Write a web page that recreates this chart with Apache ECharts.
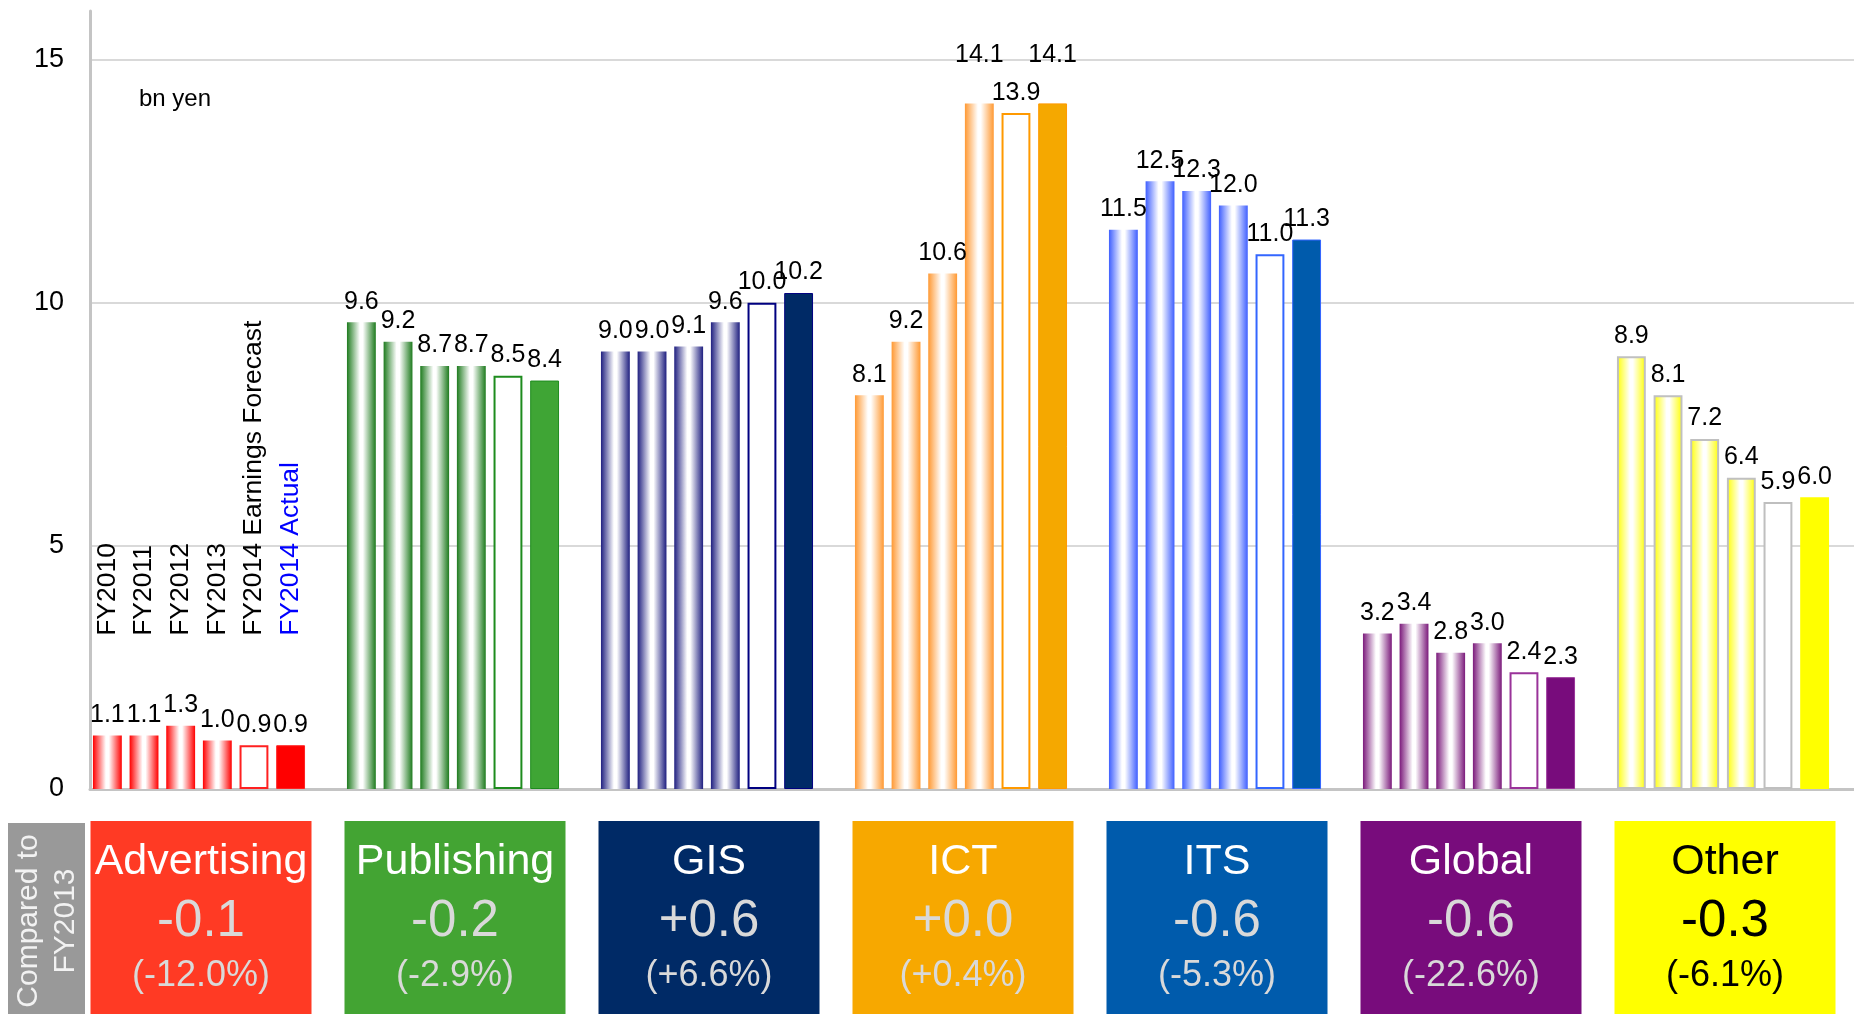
<!DOCTYPE html>
<html>
<head>
<meta charset="utf-8">
<title>Segment operating income</title>
<script src="https://cdn.jsdelivr.net/npm/echarts@6/dist/echarts.min.js"></script>
<style>
  html, body { margin: 0; padding: 0; background: #ffffff; }
  #chart { width: 1854px; height: 1014px; }
</style>
</head>
<body>
<div id="chart"></div>
<script>
// Business segments and fiscal years
const segments = ['Advertising', 'Publishing', 'GIS', 'ICT', 'ITS', 'Global', 'Other'];
const years = ['FY2010', 'FY2011', 'FY2012', 'FY2013', 'FY2014 Earnings Forecast', 'FY2014 Actual'];

// Values per fiscal year, one entry per segment (bn yen)
const fy2010 = [1.1, 9.6, 9.0, 8.1, 11.5, 3.2, 8.9];
const fy2011 = [1.1, 9.2, 9.0, 9.2, 12.5, 3.4, 8.1];
const fy2012 = [1.3, 8.7, 9.1, 10.6, 12.3, 2.8, 7.2];
const fy2013 = [1.0, 8.7, 9.6, 14.1, 12.0, 3.0, 6.4];
const fy2014Forecast = [0.9, 8.5, 10.0, 13.9, 11.0, 2.4, 5.9];
const fy2014Actual = [0.9, 8.4, 10.2, 14.1, 11.3, 2.3, 6.0];

// Change versus FY2013
const changeAmounts = ['-0.1', '-0.2', '+0.6', '+0.0', '-0.6', '-0.6', '-0.3'];
const changeRates = ['(-12.0%)', '(-2.9%)', '(+6.6%)', '(+0.4%)', '(-5.3%)', '(-22.6%)', '(-6.1%)'];

// Value axis tick labels
const yTicks = [0, 5, 10, 15];

const FONT = "'Liberation Sans', Arial, Helvetica, sans-serif";

// Segment palette
const edgeColors   = ['#FF0000', '#1E7B1E', '#1F1F80', '#FF9933', '#3F5FFF', '#7B1A7B', '#FFFF00'];
const solidColors  = ['#FF0000', '#3FA535', '#002A66', '#F5A800', '#005BAC', '#780C7C', '#FFFF00'];
const borderColors = ['#FF2020', '#1E8C1E', '#000080', '#FF9900', '#3366FF', '#993399', '#BFBFBF'];
const boxColors    = ['#FF3A24', '#43A433', '#002A66', '#F7A800', '#005BAC', '#780C7C', '#FFFF00'];

function barStyle(yearIdx, segIdx) {
  const edge = edgeColors[segIdx];
  const isOther = segIdx === 6;
  if (yearIdx === 4) {
    return { color: '#ffffff', borderColor: borderColors[segIdx], borderWidth: 2 };
  }
  if (yearIdx === 5) {
    return {
      color: solidColors[segIdx],
      borderColor: isOther ? solidColors[segIdx] : borderColors[segIdx],
      borderWidth: isOther ? 0 : 1
    };
  }
  return {
    color: {
      type: 'linear', x: 0, y: 0, x2: 1, y2: 0,
      colorStops: [
        { offset: 0, color: edge },
        { offset: 0.45, color: '#ffffff' },
        { offset: 0.55, color: '#ffffff' },
        { offset: 1, color: edge }
      ]
    },
    borderColor: isOther ? '#C0C0C0' : edge,
    borderWidth: isOther ? 2 : 0
  };
}

// A few labels sit higher to stay clear of neighbours
function labelShift(yearIdx, segIdx) {
  if (segIdx === 3 && (yearIdx === 3 || yearIdx === 5)) return [0, -28];
  return [0, 0];
}

const yearSeries = [fy2010, fy2011, fy2012, fy2013, fy2014Forecast, fy2014Actual];

const barSeries = yearSeries.map((vals, k) => ({
  type: 'bar',
  name: years[k],
  xAxisIndex: 1,
  yAxisIndex: 1,
  barGap: '27%',
  barCategoryGap: '16.5%',
  data: vals.map((v, i) => ({
    value: v,
    itemStyle: barStyle(k, i),
    label: { offset: labelShift(k, i) }
  })),
  label: {
    show: true,
    position: 'top',
    distance: 8,
    fontSize: 25,
    fontFamily: FONT,
    color: '#000000',
    formatter: p => Number(p.value).toFixed(1)
  },
  // Fiscal-year caption written vertically above the first group's bars
  markPoint: {
    silent: true,
    symbol: 'rect',
    symbolSize: 1,
    itemStyle: { color: 'rgba(0,0,0,0)' },
    data: [{ coord: [0, 3.15], value: years[k] }],
    label: {
      show: true,
      position: 'inside',
      rotate: 90,
      align: 'left',
      verticalAlign: 'middle',
      fontSize: 26.5,
      fontFamily: FONT,
      color: k === 5 ? '#0000FF' : '#000000',
      formatter: () => years[k]
    }
  }
}));

const chart = echarts.init(document.getElementById('chart'), null, { renderer: 'canvas' });

const GRID_TOP = 11, GRID_BOTTOM = 225;
const BAR_LEFT = 72, BAR_RIGHT = 4;
const catWidth = (1854 - BAR_LEFT - BAR_RIGHT) / segments.length;

// Bottom panels with the change versus FY2013
const graphics = [
  {
    type: 'text', left: 139, top: 87,
    style: { text: 'bn yen', fontSize: 24, fontFamily: FONT, fill: '#000000' }
  },
  {
    type: 'rect', shape: { x: 8, y: 823, width: 77, height: 200 },
    style: { fill: '#999999' }
  },
  {
    type: 'text', x: 47, y: 921, rotation: Math.PI / 2,
    style: {
      text: 'Compared to\nFY2013', x: 0, y: 0,
      fontSize: 30, fontFamily: FONT, fill: '#F2F2F2', lineHeight: 37,
      align: 'center', verticalAlign: 'middle',
      textAlign: 'center', textVerticalAlign: 'middle'
    }
  }
];

segments.forEach((name, i) => {
  const cx = BAR_LEFT + catWidth * (i + 0.5) + 2;
  const w = 221;
  const dark = i === 6;
  const titleColor = dark ? '#000000' : '#FFFFFF';
  const subColor = dark ? '#000000' : '#D9D9D9';
  graphics.push({
    type: 'rect', shape: { x: cx - w / 2, y: 821, width: w, height: 200 },
    style: { fill: boxColors[i] }
  });
  const lines = [
    { text: name, y: 862, size: 43, color: titleColor },
    { text: changeAmounts[i], y: 922, size: 51, color: subColor },
    { text: changeRates[i], y: 976, size: 36, color: subColor }
  ];
  lines.forEach(l => {
    graphics.push({
      type: 'text', x: cx, y: l.y,
      style: {
        text: l.text, x: 0, y: 0,
        fontSize: l.size, fontFamily: FONT, fill: l.color,
        align: 'center', verticalAlign: 'middle',
        textAlign: 'center', textVerticalAlign: 'middle'
      }
    });
  });
});

chart.setOption({
  animation: false,
  backgroundColor: '#ffffff',
  grid: [
    { left: 90, right: 0, top: GRID_TOP, bottom: GRID_BOTTOM },
    { left: BAR_LEFT, right: BAR_RIGHT, top: GRID_TOP, bottom: GRID_BOTTOM }
  ],
  xAxis: [
    {
      gridIndex: 0, type: 'value', min: 0, max: 1,
      axisLine: { show: true, lineStyle: { color: '#C4C4C4', width: 3 } },
      axisTick: { show: false }, axisLabel: { show: false }, splitLine: { show: false }
    },
    {
      gridIndex: 1, type: 'category', data: segments,
      axisLine: { show: false }, axisTick: { show: false }, axisLabel: { show: false }, splitLine: { show: false }
    }
  ],
  yAxis: [
    {
      gridIndex: 0, type: 'value', min: 0, max: 16, interval: 5,
      axisLine: { show: true, lineStyle: { color: '#C4C4C4', width: 3 } },
      axisTick: { show: false },
      axisLabel: {
        fontSize: 27, fontFamily: FONT, color: '#000000', margin: 26,
        formatter: v => (yTicks.indexOf(v) >= 0 ? String(v) : '')
      },
      splitLine: { show: true, showMaxLine: false, lineStyle: { color: '#D9D9D9', width: 2 } }
    },
    {
      gridIndex: 1, type: 'value', min: 0, max: 16,
      axisLine: { show: false }, axisTick: { show: false }, axisLabel: { show: false }, splitLine: { show: false }
    }
  ],
  series: barSeries,
  graphic: graphics
});
</script>
</body>
</html>
